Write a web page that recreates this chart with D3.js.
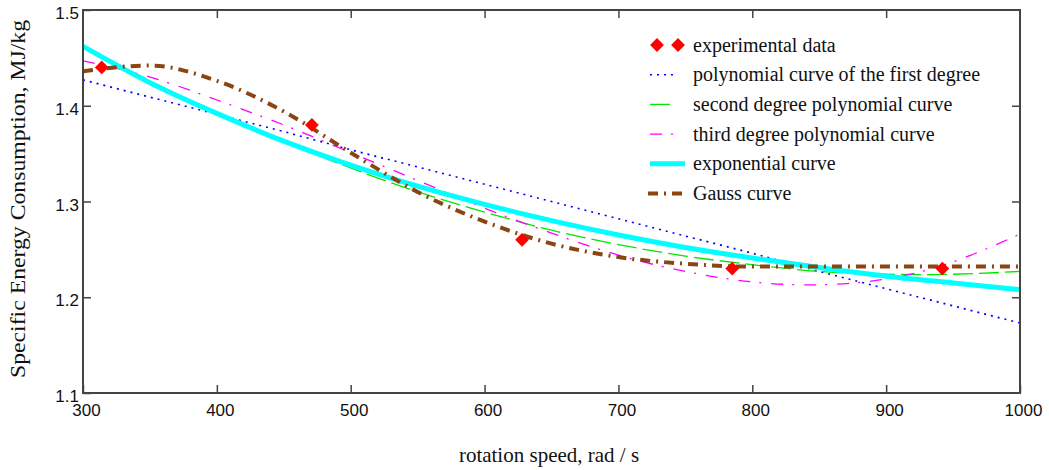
<!DOCTYPE html>
<html>
<head>
<meta charset="utf-8">
<script src="https://cdn.jsdelivr.net/npm/d3@7/dist/d3.min.js"></script>
<style>
    body { margin: 0; background: #fff; }
    svg { font-family: "Liberation Serif", "Times New Roman", serif; }
</style>
</head>
<body>
<div id="chart"></div>
<script>

// rotation speed samples, rad/s
const speeds = [300, 350, 400, 450, 500, 550, 600, 650, 700, 750, 800, 850, 900, 950, 1000];

// measured points
const expSpeed = [314, 471, 628, 785, 942];
const expEnergy = [1.44, 1.38, 1.26, 1.23, 1.23];

// fitted curves, one value per speed
const linearCurve = [1.427, 1.409, 1.391, 1.373, 1.354, 1.336, 1.318, 1.300, 1.282, 1.264, 1.246, 1.227, 1.209, 1.191, 1.173];
const quadCurve = [1.463, 1.426, 1.392, 1.362, 1.335, 1.310, 1.289, 1.270, 1.255, 1.243, 1.234, 1.227, 1.224, 1.224, 1.227];
const cubicCurve = [1.447, 1.430, 1.406, 1.380, 1.351, 1.322, 1.293, 1.267, 1.244, 1.227, 1.216, 1.213, 1.219, 1.237, 1.266];
const expoCurve = [1.462, 1.424, 1.392, 1.363, 1.338, 1.316, 1.297, 1.280, 1.265, 1.252, 1.241, 1.231, 1.222, 1.215, 1.208];
const gaussCurve = [1.436, 1.442, 1.426, 1.394, 1.351, 1.310, 1.279, 1.256, 1.242, 1.235, 1.232, 1.232, 1.232, 1.232, 1.232];

const xTicks = [300, 400, 500, 600, 700, 800, 900, 1000];
const yTicks = [1.1, 1.2, 1.3, 1.4, 1.5];

const legendLabels = ["experimental data", "polynomial curve of the first degree",
    "second degree polynomial curve", "third degree polynomial curve",
    "exponential curve", "Gauss curve"];

let width = 1049, height = 470;
let margin = {top: 10, right: 29, bottom: 77, left: 83};
let innerW = width - margin.left - margin.right;
let innerH = height - margin.top - margin.bottom;

let svg = d3.select("#chart").append("svg")
    .attr("width", width)
    .attr("height", height);

let g = svg.append("g").attr("transform", "translate(" + margin.left + "," + margin.top + ")");

let xScale = d3.scaleLinear().domain([300, 1000]).range([0, innerW]);
let yScale = d3.scaleLinear().domain([1.1, 1.5]).range([innerH, 0]);

// curve styles
let series = [
    {values: linearCurve, color: "#0000ff", width: 1.6, dash: "2,5", curve: d3.curveLinear},
    {values: quadCurve, color: "#00e600", width: 1.3, dash: "20,6", curve: d3.curveNatural},
    {values: cubicCurve, color: "#ff00ff", width: 1.3, dash: "12,9,2,10", curve: d3.curveNatural},
    {values: expoCurve, color: "#00ffff", width: 5, dash: null, curve: d3.curveNatural},
    {values: gaussCurve, color: "#8b4513", width: 4, dash: "10,6,2,6", curve: d3.curveMonotoneX}
];

series.forEach(function(s) {
    let line = d3.line()
        .x((d, i) => xScale(speeds[i]))
        .y(d => yScale(d))
        .curve(s.curve);
    g.append("path")
        .datum(s.values)
        .attr("d", line)
        .attr("fill", "none")
        .attr("stroke", s.color)
        .attr("stroke-width", s.width)
        .attr("stroke-dasharray", s.dash);
});

// diamonds
let diamond = d3.symbol().type(d3.symbolSquare).size(95);
g.selectAll(".pt").data(expSpeed).enter().append("path")
    .attr("class", "pt")
    .attr("d", diamond)
    .attr("transform", (d, i) => "translate(" + xScale(d) + "," + yScale(expEnergy[i]) + ") rotate(45)")
    .attr("fill", "#ff0000");

// axes: ticks point inside on all four sides
let axisColor = "#444";
function styleAxis(sel) {
    sel.select(".domain").remove();
    sel.selectAll("line").attr("stroke", axisColor).attr("stroke-width", 1.5);
    sel.selectAll("text").attr("fill", "#111").style("font-size", "17px");
}

let inner = xTicks.slice(1, -1);
g.append("g").attr("transform", "translate(0," + innerH + ")")
    .call(d3.axisBottom(xScale).tickValues(xTicks).tickSize(-8).tickPadding(11).tickFormat(d3.format("d")))
    .call(styleAxis)
    .call(a => a.selectAll("text").attr("dx", 3));
g.append("g")
    .call(d3.axisTop(xScale).tickValues(inner).tickSize(-8).tickFormat(""))
    .call(styleAxis);
g.append("g")
    .call(d3.axisLeft(yScale).tickValues(yTicks).tickSize(-8).tickPadding(4).tickFormat(d3.format(".1f")))
    .call(styleAxis)
    .call(a => a.selectAll("text").attr("dy", "0.5em"));
g.append("g").attr("transform", "translate(" + innerW + ",0)")
    .call(d3.axisRight(yScale).tickValues(yTicks.slice(1, -1)).tickSize(-8).tickFormat(""))
    .call(styleAxis);

// frame
g.append("rect")
    .attr("width", innerW).attr("height", innerH)
    .attr("fill", "none")
    .attr("stroke", axisColor)
    .attr("stroke-width", 2);

// axis titles
svg.append("text")
    .attr("x", 549).attr("y", 462)
    .attr("text-anchor", "middle")
    .style("font-size", "21px")
    .attr("fill", "#111")
    .text("rotation speed, rad / s");

svg.append("text")
    .attr("transform", "translate(25,199) rotate(-90)")
    .attr("text-anchor", "middle")
    .attr("textLength", 358)
    .attr("lengthAdjust", "spacingAndGlyphs")
    .style("font-size", "21px")
    .attr("fill", "#111")
    .text("Specific Energy Consumption, MJ/kg");

// legend
let legend = svg.append("g").attr("transform", "translate(650,45)");
let rowH = 29.7;
legendLabels.forEach(function(label, i) {
    let row = legend.append("g").attr("transform", "translate(0," + (i * rowH) + ")");
    if (i === 0) {
        [7, 28].forEach(function(dx) {
            row.append("path").attr("d", diamond)
                .attr("transform", "translate(" + dx + ",0) rotate(45)")
                .attr("fill", "#ff0000");
        });
    } else {
        let s = series[i - 1];
        let lens = [28, 23, 24, 35, 36];
        row.append("line")
            .attr("x1", i === 5 ? -2 : 0).attr("x2", lens[i - 1] + (i === 5 ? -2 : 0))
            .attr("y1", 0).attr("y2", 0)
            .attr("stroke", s.color)
            .attr("stroke-width", s.width)
            .attr("stroke-dasharray", s.dash);
    }
    row.append("text")
        .attr("x", 43).attr("y", 0).attr("dy", "0.33em")
        .style("font-size", "20px")
        .attr("fill", "#111")
        .text(label);
});

</script>
</body>
</html>
